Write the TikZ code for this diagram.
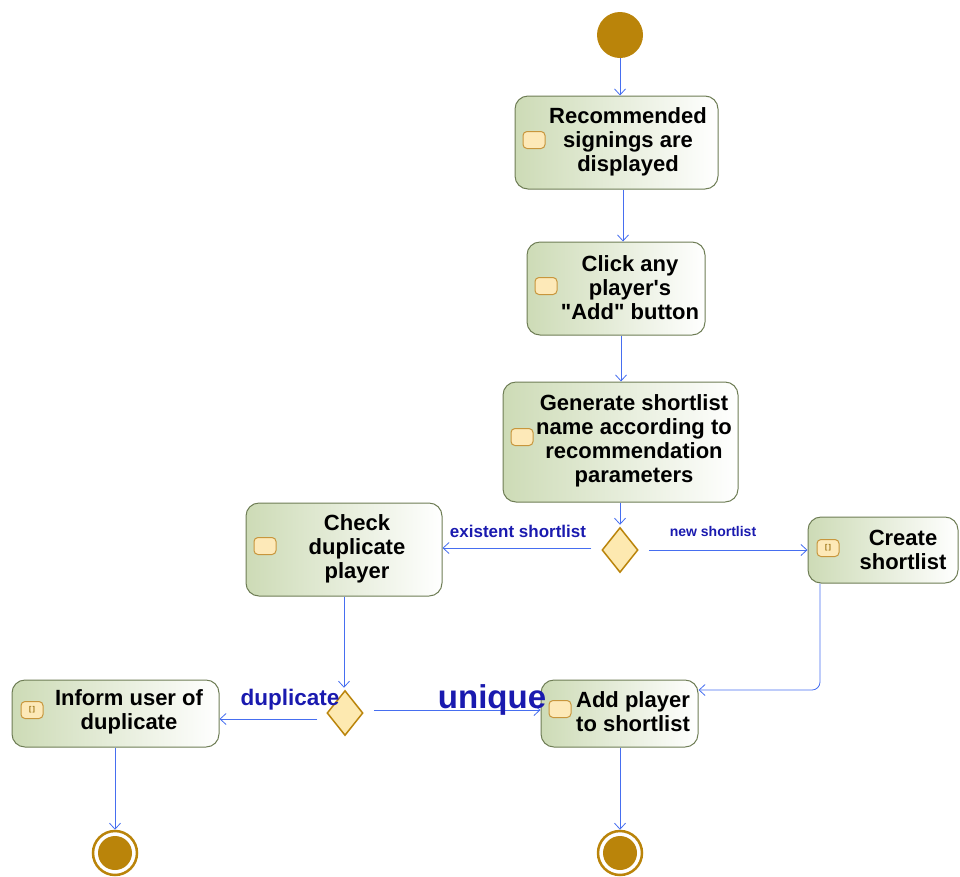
\documentclass[tikz,border=0pt]{standalone}
\usepackage{fontspec}
\setmainfont{Liberation Sans}
\usetikzlibrary{arrows.meta,shapes.geometric}
\definecolor{gold}{RGB}{186,132,10}
\definecolor{flow}{RGB}{70,110,240}
\definecolor{lbl}{RGB}{26,26,175}
\definecolor{boxline}{RGB}{110,125,85}
\definecolor{boxfill}{RGB}{205,219,182}
\definecolor{iconfill}{RGB}{253,233,184}
\definecolor{iconline}{RGB}{200,150,60}
\definecolor{diafill}{RGB}{253,233,176}
\tikzset{
  actbox/.style={draw=boxline, line width=1pt, rounded corners=13pt,
    left color=boxfill, right color=white, inner sep=0pt},
  acttext/.style={font=\bfseries\fontsize{22}{24}\selectfont, align=center,
    inner sep=0pt, text=black},
  icon/.style={draw=iconline, line width=1pt, fill=iconfill, rounded corners=4pt,
    minimum width=22pt, minimum height=17pt, inner sep=0pt,
    font=\fontsize{7}{7}\selectfont\bfseries, text=gold!80!black},
  decision/.style={diamond, draw=gold, line width=1.5pt, fill=diafill,
    minimum width=36pt, minimum height=45pt, inner sep=0pt},
  startnode/.style={circle, fill=gold, minimum size=46pt, inner sep=0pt},
  endnode/.style={circle, draw=gold, line width=2.5pt, fill=white,
    minimum size=44pt, inner sep=0pt,
    path picture={\fill[gold] (path picture bounding box.center) circle (17pt);}},
  arr/.style={draw=flow, line width=0.8pt, -{Straight Barb[length=6pt,width=11pt]}},
  guard/.style={text=lbl, inner sep=0pt},
}
\begin{document}
\begin{tikzpicture}[x=1pt,y=-1pt]
\useasboundingbox (0,0) rectangle (960,876);

% start and end points
\node[startnode] (s) at (620,35) {};
\node[endnode] (e1) at (115,853) {};
\node[endnode] (e2) at (620,853) {};

% actions
\node[actbox, minimum width=203pt, minimum height=93pt] (b1) at (616.5,142.5) {};
\node[acttext] (b1t) at (628,142) {Recommended\\signings are\\displayed};
\node[icon] (b1i) at (534,140) {};

\node[actbox, minimum width=178pt, minimum height=93pt] (b2) at (616,288.5) {};
\node[acttext] (b2t) at (630,288) {Click any\\player\textquotesingle s\\\textquotedbl Add\textquotedbl{} button};
\node[icon] (b2i) at (546,286) {};

\node[actbox, minimum width=235pt, minimum height=120pt] (b3) at (620.5,442) {};
\node[acttext] (b3t) at (634,440.5) {Generate shortlist\\name according to\\recommendation\\parameters};
\node[icon] (b3i) at (522,437) {};

\node[actbox, minimum width=196pt, minimum height=93pt] (chk) at (344,549.5) {};
\node[acttext] (chkt) at (357,549) {Check\\duplicate\\player};
\node[icon] (chki) at (265,546) {};

\node[actbox, minimum width=150pt, minimum height=66pt] (cr) at (883,550) {};
\node[acttext] (crt) at (903,550) {Create\\shortlist};
\node[icon] (cri) at (828,548) {[\,]};

\node[actbox, minimum width=207pt, minimum height=67pt] (inf) at (115.5,713.5) {};
\node[acttext] (inft) at (129,712) {Inform user of\\duplicate};
\node[icon] (infi) at (32,710) {[\,]};

\node[actbox, minimum width=157pt, minimum height=67pt] (add) at (619.5,713.5) {};
\node[acttext] (addt) at (633,712) {Add player\\to shortlist};
\node[icon] (addi) at (560,709) {};

% decisions
\node[decision] (d1) at (620,550) {};
\node[decision] (d2) at (345,713) {};

% control flow
\draw[arr] (s.south) -- (s.south |- b1.north);
\draw[arr] ([xshift=6.5pt]b1.south) -- ([xshift=6.5pt]b1.south |- b2.north);
\draw[arr] ([xshift=5pt]b2.south) -- ([xshift=5pt]b2.south |- b3.north);
\draw[arr] (d1 |- b3.south) -- ([yshift=2pt]d1.north);
\draw[arr] ([xshift=-10pt,yshift=2pt]d1.west) -- ([yshift=2pt]d1.west -| chk.east);
\draw[arr] ([xshift=10pt]d1.east) -- (d1.east -| cr.west);
\draw[arr] ([xshift=-1pt]chk.south -| d2) -- ([xshift=-1pt,yshift=2pt]d2.north);
\draw[arr] ([xshift=-9pt,yshift=-6pt]d2.west) -- ([yshift=-6pt]d2.west -| inf.east);
\draw[arr] ([xshift=10pt,yshift=3pt]d2.east) -- ([yshift=3pt]d2.east -| add.west);
\draw[arr, rounded corners=8pt] ([xshift=-63pt]cr.south) |- ([yshift=23.5pt]add.east);
\draw[arr] (inf.south -| e1) -- (e1.north);
\draw[arr] (add.south -| e2) -- (e2.north);

% guards
\node[guard, font=\bfseries\fontsize{17}{18}\selectfont] (g1) at (518,531) {existent shortlist};
\node[guard, font=\bfseries\fontsize{14}{15}\selectfont] (g2) at (713,531) {new shortlist};
\node[guard, font=\bfseries\fontsize{22.5}{23}\selectfont] (g3) at (290,700) {duplicate};
\node[guard, font=\bfseries\fontsize{33}{34}\selectfont] (g4) at (492,700) {unique};
\end{tikzpicture}
\end{document}
